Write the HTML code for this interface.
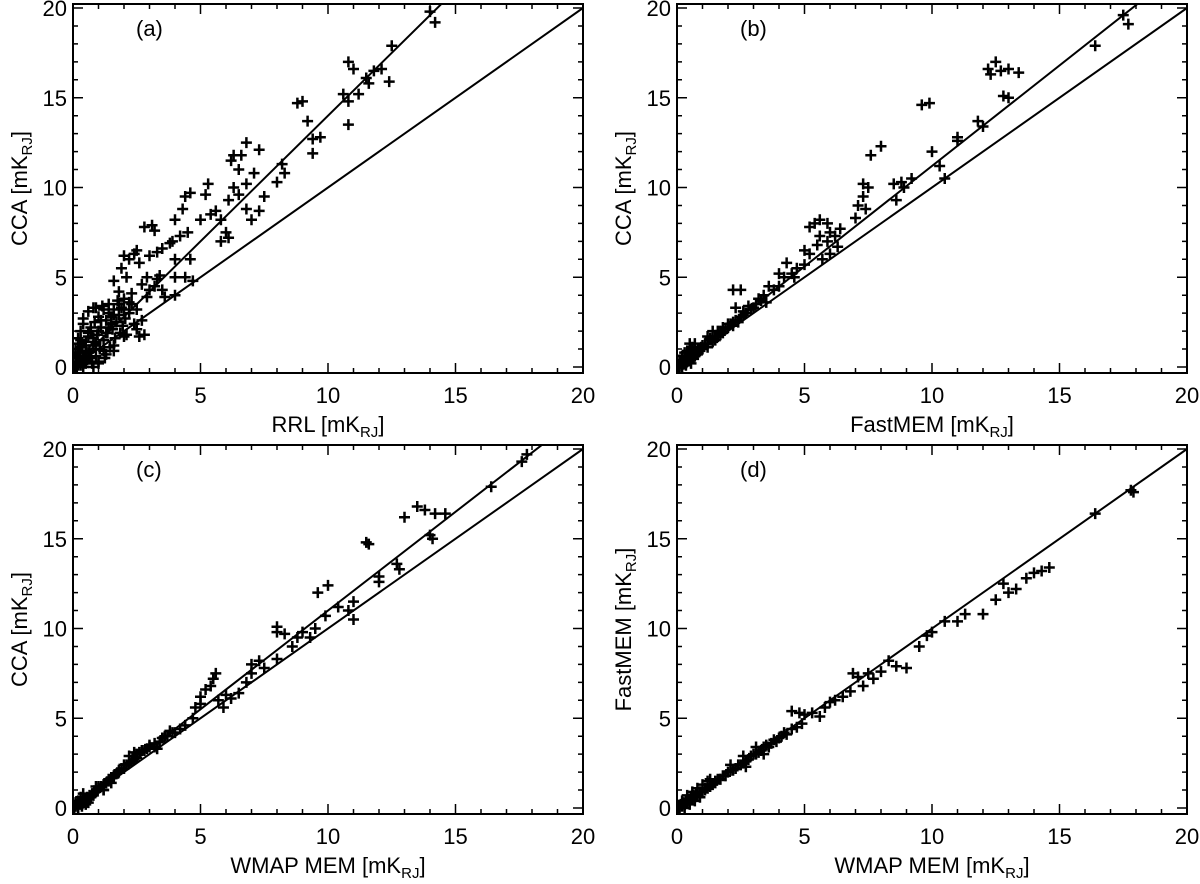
<!DOCTYPE html>
<html><head><meta charset="utf-8"><style>
body{margin:0;background:#fff;}
svg{display:block;font-family:"Liberation Sans",Arial,sans-serif;}
</style></head><body>
<svg id="fig" width="1200" height="884" viewBox="0 0 1200 884"></svg>
<script>
const ticks=[0,5,10,15,20];
const tickLabels=["0","5","10","15","20"];
const panelLabels=["(a)","(b)","(c)","(d)"];
const xTitles=["RRL","FastMEM","WMAP MEM","WMAP MEM"];
const yTitles=["CCA","CCA","CCA","FastMEM"];
const slopesA=[1,1.4];
const slopesB=[1,1.12];
const slopesC=[1,1.1];
const slopesD=[1];
const clusterA=[[0.05,0],[0.1,0.2],[0.15,0.5],[0.2,0.1],[0.25,0.8],[0.3,0.3],[0.35,1.1],[0.4,0.0],[0.45,0.6],[0.5,1.4],[0.55,0.4],[0.6,1.7],[0.65,0.9],[0.7,2.0],[0.75,0.2],[0.8,1.2],[0.85,2.5],[0.9,0.6],[0.95,1.8],[1.0,2.8],[1.05,1.0],[1.1,2.2],[1.15,3.4],[1.2,1.5],[1.25,0.5],[1.3,2.6],[1.35,1.9],[1.4,3.5],[1.45,1.1],[1.5,2.8],[1.55,2.1],[1.6,3.2],[1.65,1.6],[1.7,2.5],[1.75,3.7],[1.8,2.9],[1.85,1.9],[1.9,3.3],[1.95,2.3],[2.0,3.8],[2.05,2.7],[2.1,1.8],[2.2,3.0],[2.3,3.5],[2.4,2.4],[2.5,3.2],[2.6,1.7],[0.2,1.6],[0.3,2.0],[0.1,1.0],[0.4,2.7],[0.6,3.1],[0.8,3.3],[0.5,0.9],[0.7,0.5],[0.9,1.4],[1.2,0.9],[1.0,0.2],[0.3,0.6],[0.15,0.0],[0.45,0.3],[1.4,2.2],[1.6,0.9],[0.1,0.7],[0.25,1.3]];
const clusterB=[[0.05,0],[0.1,0.1],[0.15,0.3],[0.2,0.0],[0.25,0.4],[0.3,0.2],[0.35,0.5],[0.4,0.3],[0.45,0.6],[0.5,0.4],[0.55,0.7],[0.6,0.5],[0.65,0.8],[0.7,0.6],[0.75,0.9],[0.8,0.8],[0.85,1.0],[0.9,0.9],[0.95,1.1],[1.0,1.0],[1.1,1.3],[1.2,1.3],[1.3,1.5],[1.4,1.4],[1.5,1.7],[1.6,1.7],[1.7,2.0],[1.8,1.9],[1.9,2.1],[2.0,2.2],[2.1,2.4],[2.2,2.3],[2.3,2.6],[2.4,2.5],[2.6,2.9],[2.7,3.0],[2.9,3.2],[3.1,3.5],[3.3,3.7],[0.2,0.6],[0.4,0.9],[0.5,1.3],[0.3,0.8],[0.6,1.1],[0.7,1.0],[1.2,1.7],[1.4,2.0],[0.15,0.2],[0.35,0.1],[0.55,0.2],[0.25,0.15],[0.45,0.35],[0.65,0.45],[0.1,0.4]];
const clusterC=[[0.05,0],[0.1,0.1],[0.15,0.2],[0.2,0.0],[0.25,0.3],[0.3,0.2],[0.35,0.4],[0.4,0.3],[0.45,0.5],[0.5,0.4],[0.55,0.6],[0.6,0.5],[0.65,0.7],[0.7,0.6],[0.75,0.8],[0.8,0.7],[0.85,0.9],[0.9,0.9],[1.0,1.1],[1.1,1.2],[1.2,1.3],[1.3,1.4],[1.4,1.5],[1.5,1.7],[1.6,1.8],[1.7,1.9],[1.8,2.1],[1.9,2.2],[2.0,2.4],[2.1,2.4],[2.3,2.6],[2.5,2.8],[2.6,3.1],[2.8,3.2],[3.0,3.4],[3.2,3.6],[3.3,3.3],[3.5,3.9],[3.7,4.0],[3.8,4.3],[4.0,4.2],[0.2,0.4],[0.3,0.6],[0.4,0.8],[0.6,0.3],[0.9,1.2],[1.2,1.0],[1.5,1.4],[0.1,0.3],[0.35,0.1],[0.5,0.2],[2.2,2.9],[2.4,3.1]];
const clusterD=[[0.05,0],[0.1,0.1],[0.15,0.2],[0.2,0.1],[0.25,0.3],[0.3,0.2],[0.35,0.4],[0.4,0.3],[0.45,0.5],[0.5,0.4],[0.55,0.6],[0.6,0.5],[0.65,0.7],[0.7,0.6],[0.75,0.8],[0.8,0.7],[0.9,0.9],[1.0,0.9],[1.1,1.1],[1.2,1.1],[1.3,1.3],[1.4,1.3],[1.5,1.4],[1.6,1.6],[1.7,1.6],[1.8,1.8],[1.9,1.8],[2.0,2.0],[2.2,2.1],[2.4,2.4],[2.6,2.5],[2.8,2.7],[3.0,3.0],[3.2,3.1],[3.4,3.4],[3.6,3.4],[3.8,3.8],[4.0,3.9],[4.2,4.2],[0.2,0.4],[0.4,0.7],[0.6,0.9],[0.8,1.1],[1.0,1.3],[1.3,1.6],[0.3,0.0],[0.5,0.2],[0.7,0.4],[0.9,0.6],[2.1,2.4],[2.7,2.3],[3.1,3.4]];
const dataA=[[0.1,0],[0.2,0.3],[0.3,0.1],[0.1,0.6],[0.4,0.5],[0.2,1],[0.5,1.2],[0.6,0.8],[0.3,1.5],[0.8,1.6],[0.7,2.2],[1,2],[0.9,3.3],[1.2,3.2],[1.1,2.6],[1.4,3],[1.5,2.4],[1.8,3.5],[2,3.2],[2.2,3.6],[1.6,1.2],[2,1.7],[2.5,2.1],[2.7,2.6],[2.8,1.8],[1,0.3],[0.8,0],[1.3,0.7],[0.5,0.2],[0.6,1.9],[0.4,2.4],[1.3,1.9],[1.6,2.9],[0.9,1.3],[1.6,4.8],[1.9,5.5],[2,6.2],[2.2,6],[2.5,6.5],[2.8,7.8],[3.1,7.9],[3.2,7.6],[2.6,5.8],[3,6.2],[3.3,6.4],[3.5,6.6],[2.9,5],[3.2,4.5],[3.5,4.3],[3,4.3],[3.6,3.9],[4,4],[4,5],[4.4,5],[4.7,4.8],[4,6],[4.6,6],[4.2,7.3],[4.5,7.5],[4,8.2],[4.3,8.8],[4.4,9.5],[4.6,9.7],[5.2,9.6],[5.3,10.2],[5,8.2],[5.4,8.5],[5.6,8.7],[5.8,7],[6,7.5],[6.1,7.2],[5.8,8.2],[6.1,9.3],[6.3,10],[6.5,9.6],[6.5,11],[6.2,11.5],[6.3,11.8],[6.6,11.8],[6.8,12.5],[7.3,12.1],[6.8,10.2],[7.1,10.8],[6.8,8.8],[7,8.2],[7.3,8.7],[7.5,9.5],[8,10.3],[8.2,11.3],[8.3,10.8],[8.8,14.7],[9,14.8],[9.2,13.7],[9.4,12.7],[9.7,12.8],[9.4,11.9],[10.6,15.2],[10.8,17],[11,16.6],[11.2,15.2],[10.8,13.5],[11.6,15.8],[11.8,16.5],[12.1,16.6],[12.4,15.9],[12.5,17.9],[14,19.8],[14.2,19.2],[10.8,14.8],[11.5,16.1],[2.1,5.0],[2.4,6.3],[2.7,4.6],[3.4,5.1],[3.8,6.9],[3.9,7.0],[3.3,4.9],[2.3,4.1],[1.8,4.2],[2.9,3.9]];
const dataB=[[0.1,0],[0.3,0.2],[0.5,0.4],[0.6,1],[0.7,1.3],[0.8,0.7],[1,1.2],[1.2,1.1],[1.3,1.6],[1.5,1.5],[1.6,2],[1.8,2.2],[1.7,1.8],[2,2.4],[2.2,2.5],[2.3,3.3],[2.5,2.8],[2.6,3.1],[2.8,3.4],[3,3.3],[2.2,4.3],[2.5,4.3],[3.2,3.8],[3.4,4],[3.5,3.6],[3.6,4.5],[3.8,4.3],[4,4.5],[4.2,5],[4.5,5.2],[4.6,5],[4,5.2],[4.3,5.8],[4.7,5.5],[5,5.7],[5,6.5],[5.2,6.3],[5.5,6.8],[5.6,7.3],[5.9,7],[6,7.5],[6.2,7.3],[6.4,7.7],[5.7,6],[6,6.3],[6.3,6.7],[5.4,8],[5.6,8.2],[5.9,8],[5.2,7.8],[7,8.3],[7.1,9],[7.4,8.8],[7.3,10.2],[7.5,10],[7.3,9.5],[7.6,11.8],[8,12.3],[8.8,10.3],[8.9,10],[9.2,10.5],[8.6,9.3],[8.5,10.2],[9.6,14.6],[9.9,14.7],[10,12],[10.3,11.2],[10.5,10.5],[11,12.6],[11,12.8],[11.8,13.7],[12,13.4],[12.3,16.3],[12.5,17],[12.7,16.5],[12.8,15.1],[13,15],[13,16.6],[13.4,16.4],[12.2,16.6],[16.4,17.9],[17.5,19.6],[17.7,19.1]];
const dataC=[[0.2,0],[0.4,0.3],[0.6,0.5],[0.8,0.8],[1,1.2],[1.2,1],[1.4,1.6],[1.6,1.7],[1.8,2],[2,2.2],[2.2,2.5],[2.4,2.7],[2.5,3],[2.7,3.2],[2.9,3.3],[3,3.5],[3.2,3.4],[3.4,3.7],[3.6,4],[3.9,4.2],[4.2,4.4],[4.4,4.6],[4.7,5],[4.8,5.6],[5,5.8],[5,6.2],[5.2,6.6],[5.4,6.8],[5.5,7.2],[5.6,7.5],[5.7,6],[5.9,5.6],[6,6.3],[6.2,6.1],[6.5,6.4],[6.8,7],[7,7.5],[7,8],[7.3,8.2],[7.5,7.8],[8,8.3],[8,9.8],[8.3,9.7],[8,10.1],[8.6,9],[8.8,9.5],[9,9.8],[9.3,9.5],[9.5,10],[9.6,12],[10,12.4],[9.9,10.7],[10.4,11.2],[10.8,11],[11,10.5],[11,11.5],[11.5,14.8],[11.6,14.7],[12,12.6],[12,12.9],[12.7,13.6],[12.8,13.3],[13,16.2],[13.5,16.8],[13.8,16.6],[14,15.2],[14.1,15],[14.2,16.4],[14.6,16.4],[16.4,17.9],[17.6,19.3],[17.8,19.7]];
const dataD=[[0.1,0],[0.3,0.2],[0.5,0.5],[0.7,0.6],[0.9,0.9],[1.1,1],[1.3,1.2],[1.5,1.5],[1.7,1.6],[1.9,1.8],[2.1,2.1],[2.3,2.2],[2.5,2.4],[2.7,2.6],[2.9,2.9],[3.1,3],[3.3,3.2],[3.5,3.5],[3.7,3.6],[3.9,3.7],[4.1,4],[4.3,4.1],[4.5,4.4],[4.7,4.5],[4.9,4.7],[5,5.2],[5.3,5.3],[5.6,5.1],[5.8,5.6],[6,5.9],[6.2,6],[6.5,6.2],[6.8,6.5],[7.1,7.3],[7.3,6.8],[7.5,7.5],[7.7,7.2],[8,7.6],[8.3,8.2],[8.6,7.9],[9,7.8],[9.5,9],[9.8,9.6],[10,9.8],[10.5,10.4],[11,10.4],[11.3,10.8],[12,10.8],[12.5,11.6],[12.8,12.5],[13,12],[13.3,12.2],[13.7,12.8],[14,13.1],[14.3,13.2],[14.6,13.4],[16.4,16.4],[17.8,17.7],[17.9,17.6],[4.5,5.4],[4.8,5.3],[6.9,7.5],[2.6,2.9],[3.4,3.0],[1.2,1.5]];
const panels=[
 {L:73,T:4,R:583,B:373,data:dataA.concat(clusterA),slopes:slopesA,name:"panel-a"},
 {L:677,T:4,R:1187,B:373,data:dataB.concat(clusterB),slopes:slopesB,name:"panel-b"},
 {L:73,T:445,R:583,B:814,data:dataC.concat(clusterC),slopes:slopesC,name:"panel-c"},
 {L:677,T:445,R:1187,B:814,data:dataD.concat(clusterD),slopes:slopesD,name:"panel-d"}];
const NS="http://www.w3.org/2000/svg";
const svg=document.getElementById('fig');
function mk(tag,attrs,parent){const e=document.createElementNS(NS,tag);for(const k in attrs)e.setAttribute(k,attrs[k]);parent.appendChild(e);return e;}
panels.forEach((p,i)=>{
 const g=mk('g',{},svg);
 
 
 const xs=v=>p.L+v*(p.R-p.L)/20;
 const ys=v=>p.B-6-v*(p.B-p.T-10)/20;
 const cp=mk('clipPath',{id:'c'+i},g);
 mk('rect',{x:p.L,y:p.T,width:p.R-p.L,height:p.B-p.T},cp);
 const pg=mk('g',{'clip-path':'url(#c'+i+')'},g);
 p.slopes.forEach(s=>{
  const ln=mk('line',{x1:xs(0),y1:ys(0),x2:xs(20),y2:ys(20*s),stroke:'#000','stroke-width':2},pg);
  
  
 });
 p.data.forEach(d=>{
  const x=xs(d[0]),y=ys(d[1]);
  const m=mk('path',{d:`M${x-5.5},${y}H${x+5.5}M${x},${y-5.5}V${y+5.5}`,stroke:'#000','stroke-width':2.5},pg);
  
  
 });
 const frame=mk('rect',{x:p.L,y:p.T,width:p.R-p.L,height:p.B-p.T,fill:'none',stroke:'#000','stroke-width':2},g);
 
 
 let d='';
 for(let v=0;v<=20;v++){
  const L=(v%5==0)?10:5;
  const x=xs(v),y=ys(v);
  d+=`M${x},${p.B}v${-L}M${x},${p.T}v${L}M${p.L},${y}h${L}M${p.R},${y}h${-L}`;
 }
 const tk=mk('path',{d:d,stroke:'#000','stroke-width':1.5,fill:'none'},g);
 
 
 ticks.forEach((v,k)=>{
  const tx=mk('text',{x:xs(v),y:p.B+30,'font-size':22,'text-anchor':'middle'},g);
  tx.textContent=tickLabels[k];
  
  
  const ty=mk('text',{x:p.L-6,y:ys(v)+8,'font-size':22,'text-anchor':'end'},g);
  ty.textContent=tickLabels[k];
  
  
 });
 const xt=mk('text',{x:(p.L+p.R)/2,y:p.B+59,'font-size':22,'text-anchor':'middle'},g);
 xt.innerHTML=xTitles[i]+' [mK<tspan font-size="15" dy="5">RJ</tspan><tspan dy="-5">]</tspan>';
 
 
 const cy=(p.T+p.B)/2;
 const yt=mk('text',{x:p.L-46,y:cy,'font-size':22,'text-anchor':'middle',transform:`rotate(-90 ${p.L-46} ${cy})`},g);
 yt.innerHTML=yTitles[i]+' [mK<tspan font-size="15" dy="5">RJ</tspan><tspan dy="-5">]</tspan>';
 
 
 const pl=mk('text',{x:p.L+63,y:p.T+32,'font-size':22},g);
 pl.textContent=panelLabels[i];
 
 
});
</script>
</body></html>
